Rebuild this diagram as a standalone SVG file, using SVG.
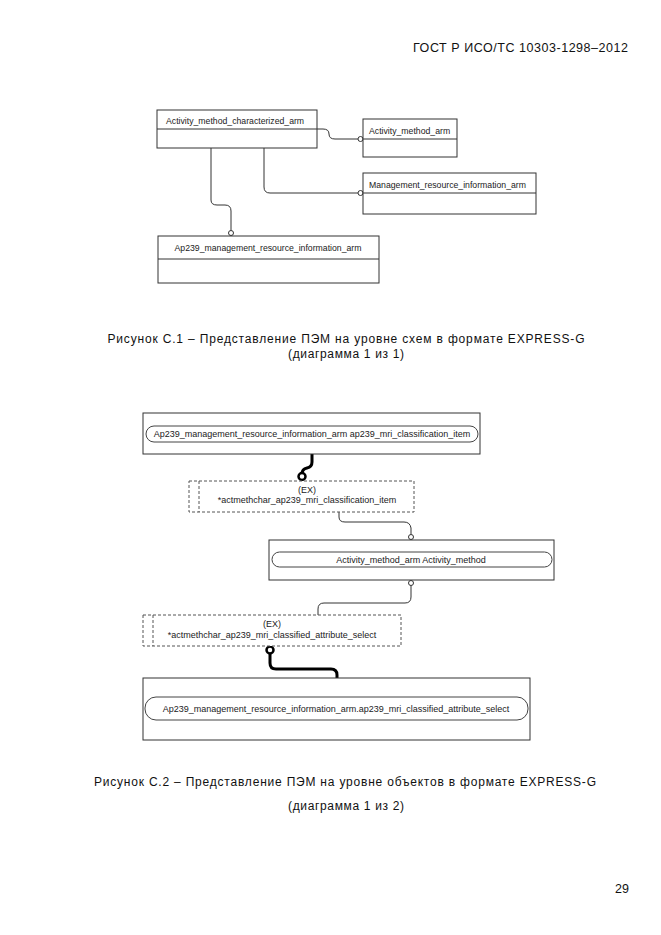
<svg xmlns="http://www.w3.org/2000/svg" width="661" height="935" viewBox="0 0 661 935">
<style>
.bg{fill:#fff}
.box{fill:#fff;stroke:#333;stroke-width:1}
.div{stroke:#333;stroke-width:1}
.pill{fill:#fff;stroke:#444;stroke-width:1}
.dash{fill:#fff;stroke:#555;stroke-width:1;stroke-dasharray:3,2}
.lbl{font-family:"Liberation Sans",Arial,sans-serif;font-size:8.7px;fill:#222}
.lb2{font-family:"Liberation Sans",Arial,sans-serif;font-size:9px;fill:#222;text-anchor:middle}
.mid{text-anchor:middle}
.cap{font-family:"Liberation Sans",Arial,sans-serif;font-size:12px;fill:#111;text-anchor:middle}
.hdr{font-family:"Liberation Sans",Arial,sans-serif;font-size:12.5px;fill:#111}
.thin{fill:none;stroke:#333;stroke-width:1}
.thick{fill:none;stroke:#000;stroke-width:3}
.oc{fill:#fff;stroke:#333;stroke-width:1}
.ocb{fill:#fff;stroke:#000;stroke-width:2.5}
</style>
<rect class="bg" x="0" y="0" width="661" height="935"/>
<text class="hdr" x="413" y="52" textLength="215" lengthAdjust="spacing">ГОСТ Р ИСО/ТС 10303-1298–2012</text>

<g id="connectors">
  <path class="thin" d="M317,129 H323 Q329,129 329,134 Q329,139 335,139 H358"/>
  <circle class="oc" cx="360.5" cy="139" r="2.5"/>
  <path class="thin" d="M264,148 V187 Q264,193 270,193 H358"/>
  <circle class="oc" cx="360.5" cy="193" r="2.5"/>
  <path class="thin" d="M211,148 V200 Q211,205 217,205 H225 Q231,205 231,211 V230.5"/>
  <circle class="oc" cx="231" cy="233" r="2.5"/>

  <path class="thick" d="M312,454 V462 Q312,467 307,468 Q302,469 302,474"/>
  <circle class="ocb" cx="302" cy="476.5" r="3.5"/>
  <path class="thin" d="M339,512 V517 Q339,522 345,522 H404 Q410,522 411,528 V534.5"/>
  <circle class="oc" cx="411" cy="537" r="2.5"/>
  <circle class="oc" cx="411" cy="583" r="2.5"/>
  <path class="thin" d="M411,585.5 V597 Q411,603 405,603 H324 Q318,603 318,609 V615"/>
  <circle class="ocb" cx="270" cy="650" r="3.5"/>
  <path class="thick" d="M270,653.5 V663 Q270,669 276,669 H331 Q337,669 337,675 V678"/>
</g>

<g id="n1">
  <rect class="box" x="157" y="110" width="160" height="38"/>
  <line class="div" x1="157" y1="129" x2="317" y2="129"/>
  <text class="lbl" x="166" y="124">Activity_method_characterized_arm</text>
</g>
<g id="n2">
  <rect class="box" x="363" y="119" width="94" height="38"/>
  <line class="div" x1="363" y1="139" x2="457" y2="139"/>
  <text class="lbl" x="369" y="134">Activity_method_arm</text>
</g>
<g id="n3">
  <rect class="box" x="363" y="173" width="173" height="41"/>
  <line class="div" x1="363" y1="193" x2="536" y2="193"/>
  <text class="lbl" x="369" y="188">Management_resource_information_arm</text>
</g>
<g id="n4">
  <rect class="box" x="158" y="236" width="221" height="47"/>
  <line class="div" x1="158" y1="259" x2="379" y2="259"/>
  <text class="lbl mid" x="268" y="251">Ap239_management_resource_information_arm</text>
</g>

<text class="cap" x="346" y="343" textLength="477" lengthAdjust="spacing">Рисунок  С.1 – Представление ПЭМ на уровне схем в формате EXPRESS-G</text>
<text class="cap" x="346" y="358" textLength="116" lengthAdjust="spacing">(диаграмма 1 из 1)</text>

<g id="m1">
  <rect class="box" x="143" y="413" width="337" height="41"/>
  <rect class="pill" x="146" y="426" width="332" height="16" rx="8" ry="8"/>
  <text class="lb2" x="312" y="437">Ap239_management_resource_information_arm ap239_mri_classification_item</text>
</g>
<g id="m2">
  <rect class="dash" x="189" y="481" width="225" height="31"/>
  <line class="dash" x1="199" y1="481" x2="199" y2="512"/>
  <text class="lb2" x="307" y="493">(EX)</text>
  <text class="lb2" x="307" y="503">*actmethchar_ap239_mri_classification_item</text>
</g>
<g id="m3">
  <rect class="box" x="269" y="540" width="285" height="40"/>
  <rect class="pill" x="272" y="552" width="280" height="15" rx="7.5" ry="7.5"/>
  <text class="lb2" x="411" y="563">Activity_method_arm Activity_method</text>
</g>
<g id="m4">
  <rect class="dash" x="143" y="615" width="258" height="31"/>
  <line class="dash" x1="153" y1="615" x2="153" y2="646"/>
  <text class="lb2" x="272" y="627">(EX)</text>
  <text class="lb2" x="272" y="638">*actmethchar_ap239_mri_classified_attribute_select</text>
</g>
<g id="m5">
  <rect class="box" x="143" y="678" width="387" height="62"/>
  <rect class="pill" x="145" y="697" width="383" height="23" rx="11" ry="11"/>
  <text class="lb2" x="336" y="712">Ap239_management_resource_information_arm.ap239_mri_classified_attribute_select</text>
</g>

<text class="cap" x="345" y="786" textLength="502" lengthAdjust="spacing">Рисунок  С.2 – Представление ПЭМ на уровне объектов в формате EXPRESS-G</text>
<text class="cap" x="346" y="810" textLength="116" lengthAdjust="spacing">(диаграмма 1 из 2)</text>

<text class="hdr" x="629" y="893" text-anchor="end">29</text>
</svg>
